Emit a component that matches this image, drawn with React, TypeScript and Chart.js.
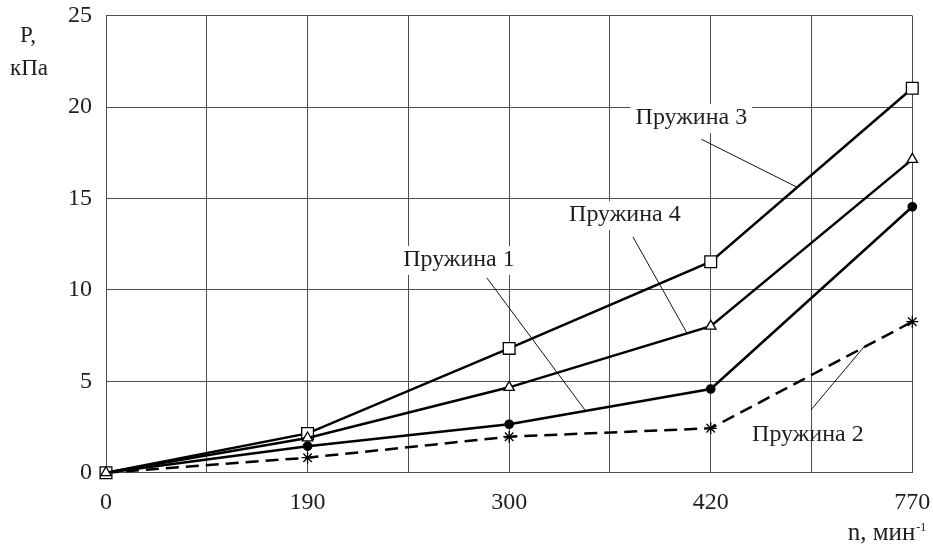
import React, { useEffect, useRef } from 'react';
import { Chart, registerables } from 'chart.js';

Chart.register(...registerables);

// ---- data ----
const categories = ['0', '190', '300', '420', '770'];
const spring1 = [0, 1.45, 2.65, 4.58, 14.55];
const spring2 = [0, 0.82, 1.97, 2.43, 8.26];
const spring3 = [0, 2.15, 6.8, 11.54, 21.03];
const spring4 = [0, 1.9, 4.67, 8.02, 17.14];
const yTickValues = [0, 5, 10, 15, 20, 25];
const seriesNames = ['Пружина 1', 'Пружина 2', 'Пружина 3', 'Пружина 4'];
const yTitle = ['P,', 'кПа'];
const xTitle = 'n, мин';
const xTitleSup = '-1';

// callouts in data coordinates (x = category index, y = value)
const callouts = [
  { text: seriesNames[2], tx: 2.904, ty: 19.4, x1: 2.954, y1: 18.24, x2: 3.426, y2: 15.63, bg: true },
  { text: seriesNames[3], tx: 2.574, ty: 14.09, x1: 2.614, y1: 12.9, x2: 2.882, y2: 7.64, bg: true },
  { text: seriesNames[0], tx: 1.751, ty: 11.64, x1: 1.89, y1: 10.65, x2: 2.376, y2: 3.43, bg: true },
  { text: seriesNames[1], tx: 3.482, ty: 2.06, x1: 3.497, y1: 3.43, x2: 3.76, y2: 6.88, bg: false },
];

const FONT = "'Liberation Serif', 'Times New Roman', serif";
const INK = '#1e1e1e';
const GRID = '#4d4d4d';

const toPts = (arr: number[]) => arr.map((v, i) => ({ x: i, y: v }));

const calloutPlugin = {
  id: 'callouts',
  beforeDatasetsDraw(chart: any) {
    const { ctx, scales } = chart;
    ctx.save();
    ctx.font = `24px ${FONT}`;
    for (const c of callouts) {
      if (!c.bg) continue;
      const px = scales.x.getPixelForValue(c.tx);
      const py = scales.y.getPixelForValue(c.ty);
      const w = ctx.measureText(c.text).width;
      ctx.fillStyle = '#ffffff';
      ctx.fillRect(px - w / 2 - 5, py - 14, w + 10, 29);
    }
    ctx.restore();
  },
  afterDatasetsDraw(chart: any) {
    const { ctx, scales, chartArea } = chart;
    ctx.save();
    ctx.font = `24px ${FONT}`;
    ctx.fillStyle = INK;
    ctx.textAlign = 'center';
    ctx.textBaseline = 'middle';
    for (const c of callouts) {
      const px = scales.x.getPixelForValue(c.tx);
      const py = scales.y.getPixelForValue(c.ty);
      ctx.fillText(c.text, px, py);
      ctx.beginPath();
      ctx.strokeStyle = '#111';
      ctx.lineWidth = 1;
      ctx.moveTo(scales.x.getPixelForValue(c.x1), scales.y.getPixelForValue(c.y1));
      ctx.lineTo(scales.x.getPixelForValue(c.x2), scales.y.getPixelForValue(c.y2));
      ctx.stroke();
    }
    // axis titles
    ctx.textBaseline = 'alphabetic';
    ctx.textAlign = 'center';
    ctx.font = `23px ${FONT}`;
    ctx.fillText(yTitle[0], chartArea.left - 78, chartArea.top + 26);
    ctx.fillText(yTitle[1], chartArea.left - 77, chartArea.top + 59);
    ctx.textAlign = 'right';
    ctx.font = `25px ${FONT}`;
    ctx.fillText(xTitle, chartArea.right + 3, chartArea.bottom + 67);
    ctx.textAlign = 'left';
    ctx.font = `12px ${FONT}`;
    ctx.fillText(xTitleSup, chartArea.right + 4, chartArea.bottom + 58);
    ctx.restore();
  },
};

export default function App() {
  const ref = useRef<HTMLCanvasElement>(null);
  useEffect(() => {
    if (!ref.current) return;
    const common = { borderColor: '#000', borderWidth: 2.5, pointBorderColor: '#000', pointBorderWidth: 1.3, clip: false };
    const chart = new Chart(ref.current, {
      type: 'line',
      data: {
        datasets: [
          { ...common, label: seriesNames[0], data: toPts(spring1), pointStyle: 'circle', pointRadius: 4.2, pointBackgroundColor: '#000', order: 2 },
          { ...common, label: seriesNames[1], data: toPts(spring2), pointStyle: 'star', pointRadius: 6, pointBackgroundColor: '#000', borderDash: [13, 7], order: 3 },
          { ...common, label: seriesNames[2], data: toPts(spring3), pointStyle: 'rect', pointRadius: 8.3, pointBackgroundColor: '#fff', order: 1 },
          { ...common, label: seriesNames[3], data: toPts(spring4), pointStyle: 'triangle', pointRadius: 6, pointBackgroundColor: '#fff', order: 0 },
        ] as any,
      },
      options: {
        responsive: false,
        animation: false,
        devicePixelRatio: 1,
        layout: { padding: { left: 0, top: 15.7, right: 20.7, bottom: 0 } },
        plugins: { legend: { display: false }, tooltip: { enabled: false } },
        elements: { line: { tension: 0 } },
        scales: {
          x: {
            type: 'linear',
            min: 0,
            max: categories.length - 1,
            afterFit: (s: any) => { s.height = 81.3; s.paddingLeft = 0; s.paddingRight = 0; },
            grid: { color: GRID, lineWidth: 1, drawTicks: false },
            border: { color: GRID, width: 1 },
            ticks: {
              stepSize: 0.5,
              autoSkip: false,
              maxRotation: 0,
              padding: 16,
              color: INK,
              font: { family: FONT, size: 24 },
              callback: (v: any) => (Number.isInteger(v) ? categories[v] : ''),
            },
          },
          y: {
            min: yTickValues[0],
            max: yTickValues[yTickValues.length - 1],
            afterFit: (s: any) => { s.width = 106; s.paddingTop = 0; s.paddingBottom = 0; },
            grid: { color: GRID, lineWidth: 1, drawTicks: false },
            border: { color: GRID, width: 1 },
            ticks: {
              stepSize: 5,
              padding: 14,
              color: INK,
              font: { family: FONT, size: 24 },
            },
          },
        },
      },
      plugins: [calloutPlugin],
    } as any);
    return () => chart.destroy();
  }, []);
  return (
    <div style={{ position: 'fixed', left: 0, top: 0, width: 933, height: 554, background: '#fff' }}>
      <canvas ref={ref} width={933} height={554} style={{ display: 'block' }} />
    </div>
  );
}
